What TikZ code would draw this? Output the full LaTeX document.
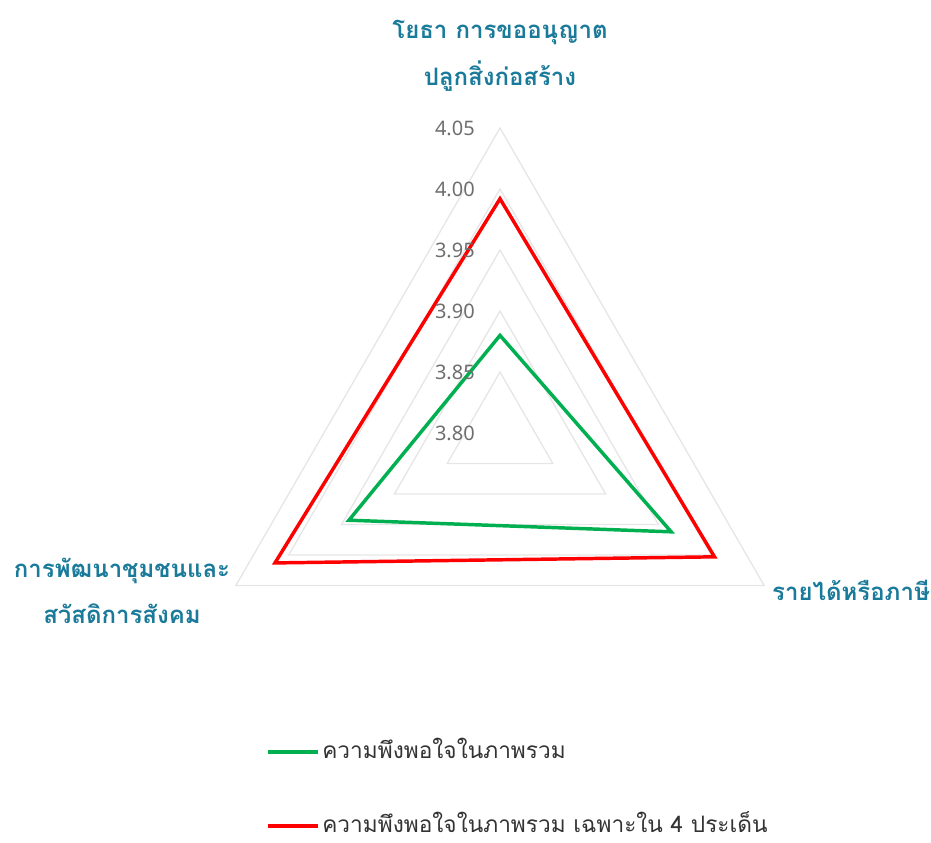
\documentclass[tikz,border=0pt]{standalone}
\usepackage{fontspec}
\newfontfamily\thaifont[Script=Thai]{Loma}
\newfontfamily\numfont{Noto Sans}
\definecolor{axislabel}{HTML}{1A7A9A}
\definecolor{ticklabel}{HTML}{6E6E6E}
\definecolor{ringgray}{HTML}{E6E6E6}
\definecolor{seriesgreen}{HTML}{00B050}
\definecolor{seriesred}{HTML}{FF0000}
\tikzset{
  ring/.style={ringgray, line width=1pt, line join=miter},
  series/.style={line width=2.6pt, line join=miter},
  axisname/.style={text=axislabel, align=center, font=\thaifont\bfseries\fontsize{18}{35}\selectfont},
  tick/.style={text=ticklabel, anchor=east, inner sep=0pt, font=\numfont\fontsize{15}{16}\selectfont},
  legendtext/.style={text=black!80, anchor=base west, inner sep=0pt, text depth=0pt, font=\thaifont\fontsize{17}{20}\selectfont}
}
\begin{document}
\begin{tikzpicture}[x=0.75pt, y=0.75pt]
\useasboundingbox (0,0) rectangle (931,842);

% Rings of the radar grid (3.85 ... 4.05)
\begin{scope}[shift={(500,409)}]
\foreach \k in {1,...,5} {
  \draw[ring] (90:61*\k) -- (-30:61*\k) -- (210:61*\k) -- cycle;
}

% Series: overall satisfaction
\draw[series, seriesgreen] (90:{(3.88-3.8)*1220}) -- (-30:{(3.962-3.8)*1220})
  -- (210:{(3.943-3.8)*1220}) -- cycle;
% Series: overall satisfaction, 4 issues only
\draw[series, seriesred] (90:{(3.992-3.8)*1220}) -- (-30:{(4.003-3.8)*1220})
  -- (210:{(4.013-3.8)*1220}) -- cycle;
\end{scope}

% Tick labels
\foreach \v [count=\k from 0] in {3.80,3.85,3.90,3.95,4.00,4.05} {
  \node[tick] (tick\k) at (475,{409+61*\k}) {\v};
}

% Axis names
\node[axisname] (toplabel) at (500,786) {โยธา การขออนุญาต\\ปลูกสิ่งก่อสร้าง};
\node[axisname] (leftlabel) at (122,251) {การพัฒนาชุมชนและ\\สวัสดิการสังคม};
\node[axisname] (rightlabel) at (851,252) {รายได้หรือภาษี};

% Legend
\coordinate (greenstart) at (268,90);
\coordinate (greenend) at (318,90);
\coordinate (redstart) at (268,16);
\coordinate (redend) at (318,16);
\draw[series, seriesgreen] (greenstart) -- (greenend);
\node[legendtext] (greentext) at (322,84) {ความพึงพอใจในภาพรวม};
\draw[series, seriesred] (redstart) -- (redend);
\node[legendtext] (redtext) at (322,10) {ความพึงพอใจในภาพรวม เฉพาะใน 4 ประเด็น};
\end{tikzpicture}
\end{document}
